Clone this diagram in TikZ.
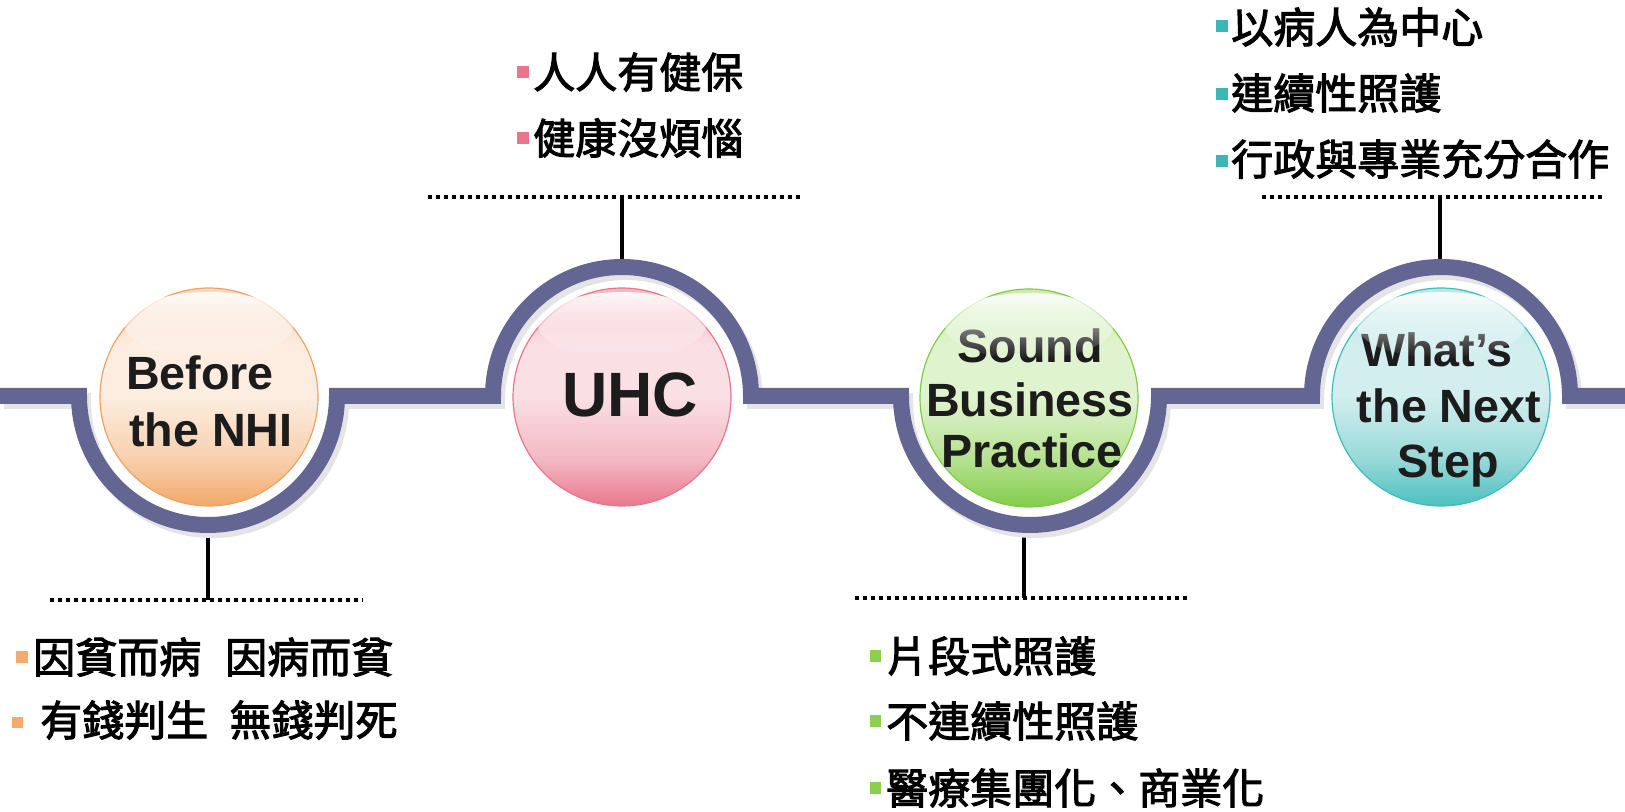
\documentclass[tikz,border=0pt]{standalone}
\usepackage{fontspec}
\setmainfont{Liberation Sans}
\newfontfamily\cjk[FakeBold=2.5]{Noto Sans CJK TC}
\usetikzlibrary{fadings}

\definecolor{trackc}{RGB}{99,101,147}
\definecolor{shadowc}{RGB}{228,228,230}
\definecolor{txt}{RGB}{28,28,28}
% orange
\definecolor{Oedge}{HTML}{F0A263}\definecolor{Obot}{HTML}{F2A868}\definecolor{Olow}{HTML}{F8D0AE}
\definecolor{Omid}{HTML}{FCEDE0}\definecolor{Otop}{HTML}{F8D9BE}\definecolor{Obul}{HTML}{F5A96D}
% pink
\definecolor{Pedge}{HTML}{E8768C}\definecolor{Pbot}{HTML}{E9788E}\definecolor{Plow}{HTML}{F3B9C4}
\definecolor{Pmid}{HTML}{FADFE5}\definecolor{Ptop}{HTML}{F3BAC5}\definecolor{Pbul}{HTML}{E8768C}
% green
\definecolor{Gedge}{HTML}{7FCB45}\definecolor{Gbot}{HTML}{82CC4A}\definecolor{Glow}{HTML}{B5E290}
\definecolor{Gmid}{HTML}{E0F3CF}\definecolor{Gtop}{HTML}{CDEBB3}\definecolor{Gbul}{HTML}{8BCF4F}
% teal
\definecolor{Tedge}{HTML}{3BBDBD}\definecolor{Tbot}{HTML}{4CC0C0}\definecolor{Tlow}{HTML}{9AD9D9}
\definecolor{Tmid}{HTML}{D2EEEE}\definecolor{Ttop}{HTML}{BDE6E6}\definecolor{Tbul}{HTML}{3BB7B7}

\newcommand\mkballshade[1]{%
  \pgfdeclareverticalshading{ball#1}{100bp}{color(0bp)=(#1bot); color(25bp)=(#1bot);
    color(36bp)=(#1low); color(50bp)=(#1mid); color(62bp)=(#1mid); color(70bp)=(#1top);
    color(75bp)=(#1top); color(100bp)=(#1top)}}
\mkballshade{O}\mkballshade{P}\mkballshade{G}\mkballshade{T}

\tikzfading[name=hlfade, top color=transparent!10, bottom color=transparent!100]

\tikzset{
  trackline/.style={line width=12pt, line join=miter},
  conn/.style={line width=2.6pt, draw=black},
  dots/.style={line width=3pt, draw=black, dash pattern=on 3pt off 3pt},
  ball/.style={circle, inner sep=0pt, minimum size=163.5pt, draw=#1edge, line width=0.9pt, shading=ball#1},
  hl/.style={fill=white, path fading=hlfade},
  lbl/.style={font=\fontsize{35}{42}\selectfont\bfseries, text=txt, inner sep=0pt, anchor=base},
  lblbig/.style={font=\fontsize{47}{56}\selectfont\bfseries, text=txt, inner sep=0pt, anchor=base},
  cj/.style={font=\cjk\fontsize{31.5}{38}\selectfont, text=black, inner sep=0pt, anchor=base west},
  bul/.style={rectangle, inner sep=0pt, minimum size=8.6pt, fill=#1},
}

\begin{document}
\begin{tikzpicture}[x=0.75pt,y=0.75pt]
\useasboundingbox (0,0) rectangle (1625,811);

% ---- dotted lines and connectors
\coordinate (d1l) at (50,211);   \coordinate (d1r) at (363,211);
\coordinate (d2l) at (428,614);  \coordinate (d2r) at (800,614);
\coordinate (d3l) at (855,213);  \coordinate (d3r) at (1187,213);
\coordinate (d4l) at (1262,614); \coordinate (d4r) at (1602,614);
\coordinate (k1a) at (208,290);  \coordinate (k1b) at (208,211);
\coordinate (k2a) at (622,540);  \coordinate (k2b) at (622,614);
\coordinate (k3a) at (1024,290); \coordinate (k3b) at (1024,213);
\coordinate (k4a) at (1440,540); \coordinate (k4b) at (1440,614);
\draw[dots] (d1l) -- (d1r);
\draw[dots] (d2l) -- (d2r);
\draw[dots] (d3l) -- (d3r);
\draw[dots] (d4l) -- (d4r);
\draw[conn] (k1a) -- (k1b);
\draw[conn] (k2a) -- (k2b);
\draw[conn] (k3a) -- (k3b);
\draw[conn] (k4a) -- (k4b);

% ---- track (shadow + line)
\begin{scope}[shift={(4,-5)}]
\draw[trackline, draw=shadowc] (0,415) -- (79,415) arc[start angle=180,end angle=360,radius=129]
  -- (493,415) arc[start angle=180,end angle=0,radius=129]
  -- (901,415) arc[start angle=180,end angle=360,radius=129]
  -- (1312,415) arc[start angle=180,end angle=0,radius=129] -- (1625,415);
\end{scope}
\draw[trackline, draw=trackc] (0,415) -- (79,415) arc[start angle=180,end angle=360,radius=129]
  -- (493,415) arc[start angle=180,end angle=0,radius=129]
  -- (901,415) arc[start angle=180,end angle=360,radius=129]
  -- (1312,415) arc[start angle=180,end angle=0,radius=129] -- (1625,415);

% ---- balls
\node[ball=O] (b1) at (209,414) {};
\node[ball=P] (b2) at (622,414) {};
\node[ball=G] (b3) at (1029,413) {};
\node[ball=T] (b4) at (1441,414) {};

% ---- ball labels
\node[lbl] (t1a) at (200,421) {Before};
\node[lbl] (t1b) at (211,364) {the NHI};
\node[lblbig] (t2a) at (630,394) {UHC};
\node[lbl] (t3a) at (1030,448) {Sound};
\node[lbl] (t3b) at (1030,394) {Business};
\node[lbl] (t3c) at (1032,343) {Practice};
\node[lbl] (t4a) at (1437,444) {What’s};
\node[lbl] (t4b) at (1449,388) {the Next};
\node[lbl] (t4c) at (1448,333) {Step};

% ---- highlights
\fill[hl] (209,486) ellipse [x radius=84, y radius=33];
\fill[hl] (622,486) ellipse [x radius=84, y radius=33];
\fill[hl] (1029,485) ellipse [x radius=84, y radius=33];
\fill[hl] (1441,486) ellipse [x radius=84, y radius=33];

% ---- bullets: Before the NHI
\node[bul=Obul] (s1a) at (22,154) {};
\node[cj] (c1a) at (33,138) {因貧而病\hspace{18pt}因病而貧};
\node[bul=Obul] (s1b) at (17.5,88.5) {};
\node[cj] (c1b) at (40,75) {有錢判生\hspace{16pt}無錢判死};

% ---- bullets: UHC
\node[bul=Pbul] (s2a) at (523,739) {};
\node[cj] (c2a) at (533,723) {人人有健保};
\node[bul=Pbul] (s2b) at (523,673) {};
\node[cj] (c2b) at (533,657) {健康沒煩惱};

% ---- bullets: Sound Business Practice
\node[bul=Gbul] (s3a) at (875.5,155) {};
\node[cj] (c3a) at (886,139) {片段式照護};
\node[bul=Gbul] (s3b) at (875.5,90) {};
\node[cj] (c3b) at (886,74) {不連續性照護};
\node[bul=Gbul] (s3c) at (875.5,23) {};
\node[cj] (c3c) at (886,7) {醫療集團化、商業化};

% ---- bullets: What's the Next Step
\node[bul=Tbul] (s4a) at (1222,785) {};
\node[cj] (c4a) at (1231,768) {以病人為中心};
\node[bul=Tbul] (s4b) at (1222,717) {};
\node[cj] (c4b) at (1231,702) {連續性照護};
\node[bul=Tbul] (s4c) at (1222,650) {};
\node[cj] (c4c) at (1231,636) {行政與專業充分合作};
\end{tikzpicture}
\end{document}
